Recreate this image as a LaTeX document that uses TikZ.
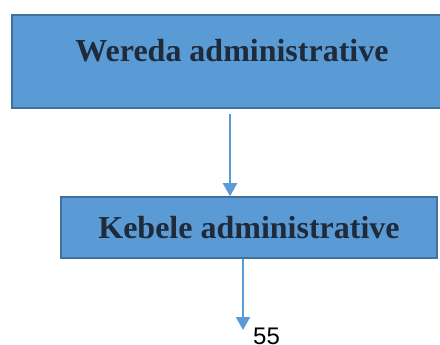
\documentclass[tikz,border=0pt]{standalone}
\usepackage{fontspec}
\setmainfont{Liberation Serif}
\newfontfamily\pagenumfont{Liberation Sans}
\usetikzlibrary{arrows.meta, positioning}
\definecolor{boxblue}{HTML}{5B9BD5}
\definecolor{boxedge}{HTML}{41719C}
\definecolor{boxtext}{HTML}{1F2A3A}
\tikzset{
    adminbox/.style={draw=boxedge, line width=1.5pt, fill=boxblue, text=boxtext,
        font=\fontsize{32}{35}\selectfont\bfseries, inner sep=0pt},
    flow/.style={draw=boxblue, line width=2pt, -{Triangle[width=14pt, length=13pt]}}
}

\begin{document}
\begin{tikzpicture}[x=1pt, y=-1pt]
    \useasboundingbox (0, 0) rectangle (440, 345);
    \clip (0, 0) rectangle (440, 345);
    \node[adminbox, minimum width=440pt, text height=46.5pt, text depth=46.5pt] (wereda) at (232, 61.5) {Wereda administrative};
    \node[adminbox, minimum width=376pt, minimum height=61pt] (kebele) at (249, 227.5) {Kebele administrative};
    \coordinate (next) at (243, 330);
    \node[font=\pagenumfont\fontsize{24}{26}\selectfont, inner sep=0pt, anchor=base west] (pagenum) at (253, 344) {55};
    \draw[flow] ([xshift=-2pt, yshift=-5pt]wereda.south) -- ([xshift=-2pt]wereda.south |- kebele.north);
    \draw[flow] ([xshift=-6pt]kebele.south) -- (next);
\end{tikzpicture}
\end{document}
